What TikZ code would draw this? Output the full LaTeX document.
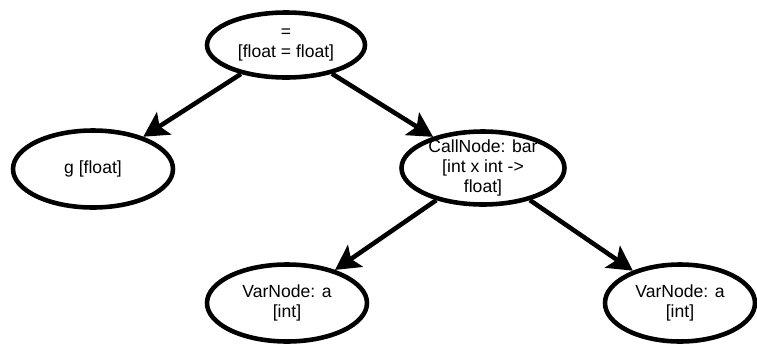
\documentclass[tikz,border=0pt]{standalone}
\usepackage{fontspec}
\setmainfont{Liberation Sans}
\usetikzlibrary{shapes.geometric,arrows.meta}

\tikzset{
  astnode/.style={ellipse, draw, line width=2.6pt, inner xsep=0pt, inner ysep=-1.5pt,
    align=center, font=\fontsize{10}{11.2}\selectfont},
  astedge/.style={line width=2.6pt,
    -{Stealth[length=14pt,width=15pt,inset=3pt]}}
}

\begin{document}
\begin{tikzpicture}
        \useasboundingbox (0,0) rectangle (15.14,-6.86);
        % nodes of the tree
        \node[astnode, minimum width=3.16cm, minimum height=1.30cm] (eq) at (5.72,-0.90) {=\\{}[float = float]};
        \node[astnode, minimum width=3.2cm, minimum height=1.54cm] (g) at (1.86,-3.38) {g [float]};
        \node[astnode, minimum width=3.26cm, minimum height=1.46cm] (call) at (9.66,-3.36) {CallNode: bar\\{}[int x int -\textgreater\\float]};
        \node[astnode, minimum width=3.2cm, minimum height=1.54cm] (varl) at (5.74,-6.06) {VarNode: a\\{}[int]};
        \node[astnode, minimum width=3.0cm, minimum height=1.54cm] (varr) at (13.60,-6.06) {VarNode: a\\{}[int]};
        % edges
        \draw[astedge] (eq) -- (g);
        \draw[astedge] (eq) -- (call);
        \draw[astedge] (call) -- (varl);
        \draw[astedge] (call) -- (varr);
\end{tikzpicture}
\end{document}
